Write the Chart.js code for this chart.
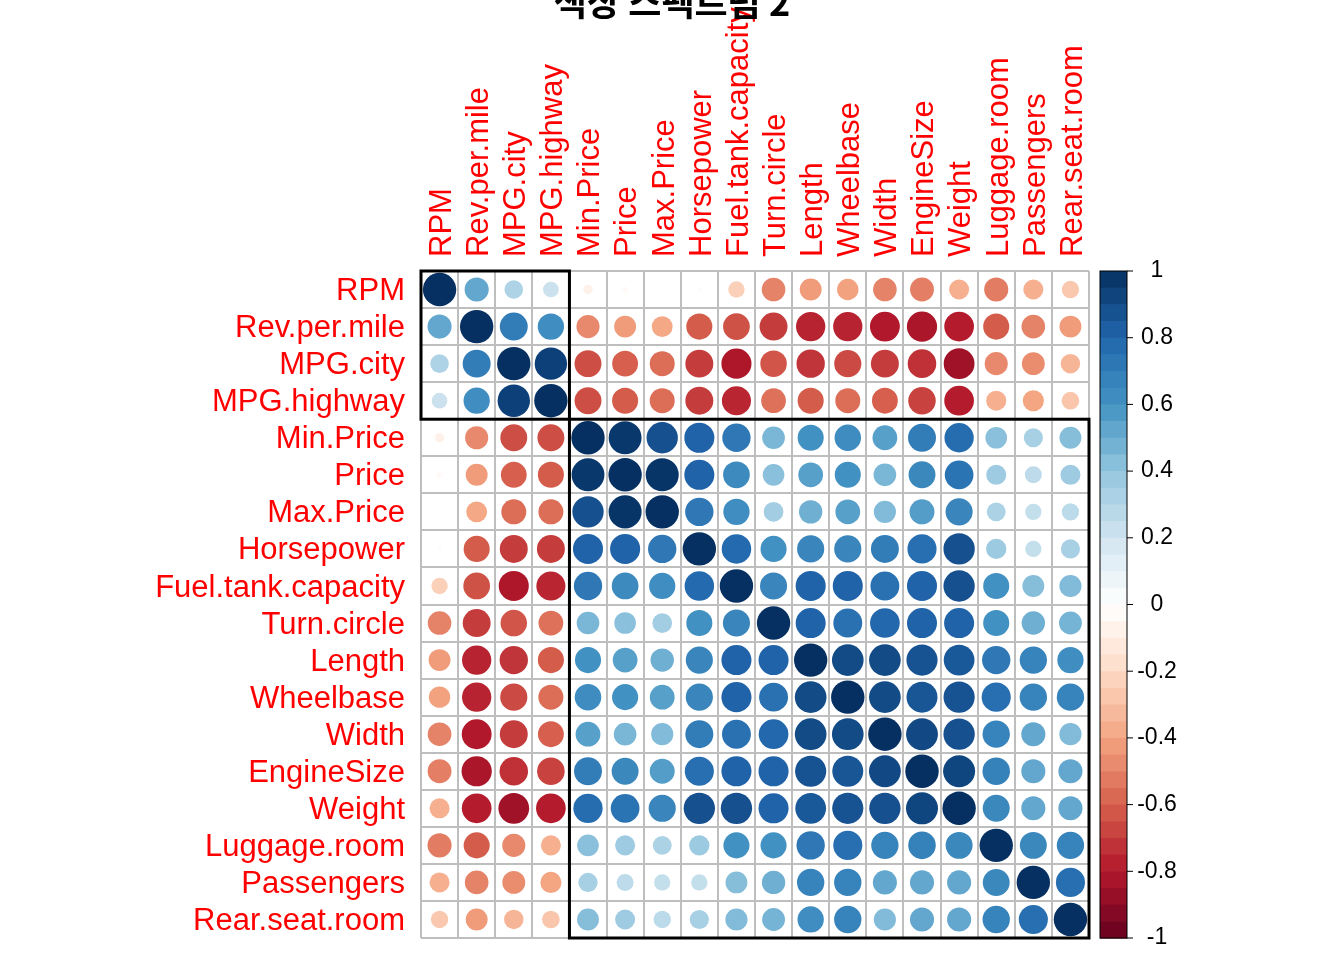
<!DOCTYPE html>
<html>
<head>
<meta charset="utf-8">
<script src="https://cdn.jsdelivr.net/npm/chart.js@4.4.0/dist/chart.umd.min.js"></script>
<style>
  html, body { margin: 0; padding: 0; background: #fff; }
  #wrap { width: 1344px; height: 960px; }
</style>
</head>
<body>
<div id="wrap"><canvas id="myChart"></canvas></div>
<script>
// variable order as in the picture (clustered)
const variables = ['RPM', 'Rev.per.mile', 'MPG.city', 'MPG.highway', 'Min.Price', 'Price', 'Max.Price',
    'Horsepower', 'Fuel.tank.capacity', 'Turn.circle', 'Length', 'Wheelbase', 'Width', 'EngineSize',
    'Weight', 'Luggage.room', 'Passengers', 'Rear.seat.room'];

// correlation rows
const corrRows = [
    [1.00, 0.52, 0.31, 0.22, -0.08, -0.03, 0.01, 0.02, -0.24, -0.50, -0.43, -0.41, -0.50, -0.51, -0.36, -0.52, -0.36, -0.27],
    [0.52, 1.00, 0.70, 0.62, -0.48, -0.43, -0.39, -0.61, -0.64, -0.70, -0.77, -0.77, -0.80, -0.82, -0.79, -0.61, -0.50, -0.43],
    [0.31, 0.70, 1.00, 0.94, -0.65, -0.60, -0.56, -0.70, -0.81, -0.63, -0.72, -0.66, -0.70, -0.73, -0.85, -0.48, -0.47, -0.34],
    [0.22, 0.62, 0.94, 1.00, -0.65, -0.61, -0.56, -0.70, -0.76, -0.55, -0.61, -0.56, -0.60, -0.68, -0.79, -0.36, -0.40, -0.28],
    [-0.08, -0.48, -0.65, -0.65, 1.00, 0.97, 0.88, 0.81, 0.72, 0.46, 0.61, 0.63, 0.55, 0.70, 0.77, 0.42, 0.33, 0.43],
    [-0.03, -0.43, -0.60, -0.61, 0.97, 1.00, 0.98, 0.81, 0.64, 0.42, 0.55, 0.61, 0.46, 0.65, 0.74, 0.36, 0.26, 0.36],
    [0.01, -0.39, -0.56, -0.56, 0.88, 0.98, 1.00, 0.72, 0.62, 0.35, 0.49, 0.55, 0.44, 0.56, 0.66, 0.32, 0.24, 0.27],
    [0.02, -0.61, -0.70, -0.70, 0.81, 0.81, 0.72, 1.00, 0.78, 0.61, 0.66, 0.66, 0.70, 0.76, 0.88, 0.37, 0.24, 0.33],
    [-0.24, -0.64, -0.81, -0.76, 0.72, 0.64, 0.62, 0.78, 1.00, 0.66, 0.81, 0.81, 0.75, 0.81, 0.88, 0.61, 0.43, 0.44],
    [-0.50, -0.70, -0.63, -0.55, 0.46, 0.42, 0.35, 0.61, 0.66, 1.00, 0.81, 0.75, 0.79, 0.81, 0.81, 0.61, 0.49, 0.47],
    [-0.43, -0.77, -0.72, -0.61, 0.61, 0.55, 0.49, 0.66, 0.81, 0.81, 1.00, 0.90, 0.90, 0.87, 0.85, 0.72, 0.67, 0.62],
    [-0.41, -0.77, -0.66, -0.56, 0.63, 0.61, 0.55, 0.66, 0.81, 0.75, 0.90, 1.00, 0.90, 0.86, 0.87, 0.76, 0.67, 0.67],
    [-0.50, -0.80, -0.70, -0.60, 0.55, 0.46, 0.44, 0.70, 0.75, 0.79, 0.90, 0.90, 1.00, 0.91, 0.88, 0.67, 0.52, 0.44],
    [-0.51, -0.82, -0.73, -0.68, 0.70, 0.65, 0.56, 0.76, 0.81, 0.81, 0.87, 0.86, 0.91, 1.00, 0.92, 0.68, 0.52, 0.52],
    [-0.36, -0.79, -0.85, -0.79, 0.77, 0.74, 0.66, 0.88, 0.88, 0.81, 0.85, 0.87, 0.88, 0.92, 1.00, 0.65, 0.52, 0.52],
    [-0.52, -0.61, -0.48, -0.36, 0.42, 0.36, 0.32, 0.37, 0.61, 0.61, 0.72, 0.76, 0.67, 0.68, 0.65, 1.00, 0.65, 0.67],
    [-0.36, -0.50, -0.47, -0.40, 0.33, 0.26, 0.24, 0.24, 0.43, 0.49, 0.67, 0.67, 0.52, 0.52, 0.52, 0.65, 1.00, 0.76],
    [-0.27, -0.43, -0.34, -0.28, 0.43, 0.36, 0.27, 0.33, 0.44, 0.47, 0.62, 0.67, 0.44, 0.52, 0.52, 0.67, 0.76, 1.00]
];

// cluster boxes: first and last variable index of each group
const clusterStart = [0, 4];
const clusterEnd = [3, 17];

const legendTicks = [1, 0.8, 0.6, 0.4, 0.2, 0, -0.2, -0.4, -0.6, -0.8, -1];

// RdBu palette, from -1 to 1
const palette = ['#67001F', '#B2182B', '#D6604D', '#F4A582', '#FDDBC7', '#FFFFFF',
    '#D1E5F0', '#92C5DE', '#4393C3', '#2166AC', '#053061'];

const chartTitle = '색상 스펙트럼 2';
const labelFont = '"Liberation Sans", Arial, sans-serif';

function hexToRgb(h) {
    return [parseInt(h.slice(1, 3), 16), parseInt(h.slice(3, 5), 16), parseInt(h.slice(5, 7), 16)];
}

function colorFor(v) {
    const pos = (Math.max(-1, Math.min(1, v)) + 1) / 2 * (palette.length - 1);
    const i = Math.min(Math.floor(pos), palette.length - 2);
    const t = pos - i;
    const a = hexToRgb(palette[i]), b = hexToRgb(palette[i + 1]);
    const c = a.map((x, k) => Math.round(x + (b[k] - x) * t));
    return `rgb(${c[0]}, ${c[1]}, ${c[2]})`;
}

// one point per cell, placed by label on the category scales
const points = [];
corrRows.forEach((row, i) => {
    row.forEach((v, j) => points.push({ x: variables[j], y: variables[i], v: v }));
});

// title, cluster rectangles and colour legend
const extrasPlugin = {
    id: 'extras',
    afterDatasetsDraw(chart) {
        const ctx = chart.ctx;
        const xs = chart.scales.x, ys = chart.scales.y;
        const cellW = (xs.right - xs.left) / variables.length;
        const cellH = (ys.bottom - ys.top) / variables.length;
        ctx.save();
        ctx.strokeStyle = '#000';
        ctx.lineWidth = 3;
        for (let k = 0; k < clusterStart.length; k++) {
            const x0 = xs.getPixelForValue(clusterStart[k]) - cellW / 2;
            const x1 = xs.getPixelForValue(clusterEnd[k]) + cellW / 2;
            const y0 = ys.getPixelForValue(clusterStart[k]) - cellH / 2;
            const y1 = ys.getPixelForValue(clusterEnd[k]) + cellH / 2;
            ctx.strokeRect(x0, y0, x1 - x0, y1 - y0);
        }
        ctx.restore();
    },
    afterDraw(chart) {
        const ctx = chart.ctx;
        const a = chart.chartArea;
        ctx.save();
        // colour bar
        const bx = a.right + 11, bw = 27;
        const steps = 40;
        const bh = (a.bottom - a.top) / steps;
        for (let k = 0; k < steps; k++) {
            const v = 1 - (k + 0.5) * 2 / steps;
            ctx.fillStyle = colorFor(v);
            ctx.fillRect(bx, a.top + k * bh, bw, bh + 0.6);
        }
        ctx.strokeStyle = '#000';
        ctx.lineWidth = 1;
        ctx.strokeRect(bx, a.top, bw, a.bottom - a.top);
        ctx.fillStyle = '#000';
        ctx.font = '23px ' + labelFont;
        ctx.textAlign = 'center';
        ctx.textBaseline = 'middle';
        legendTicks.forEach(t => {
            const y = a.top + (1 - t) / 2 * (a.bottom - a.top);
            ctx.beginPath();
            ctx.moveTo(bx + bw, y);
            ctx.lineTo(bx + bw + 6, y);
            ctx.stroke();
            ctx.fillText(String(t), bx + bw + 30, y);
        });
        // title, partly above the top edge
        ctx.font = 'bold 36px "Noto Sans CJK KR", sans-serif';
        ctx.textBaseline = 'alphabetic';
        ctx.fillText(chartTitle, 672, 16);
        ctx.restore();
    }
};

const ctx = document.getElementById('myChart').getContext('2d');
const myChart = new Chart(ctx, {
    type: 'scatter',
    data: {
        datasets: [{
            data: points,
            showLine: false,
            pointStyle: 'circle',
            pointBorderWidth: 0,
            pointBackgroundColor: c => colorFor(c.raw.v),
            pointBorderColor: c => colorFor(c.raw.v),
            pointRadius: c => {
                const a = c.chart.chartArea;
                if (!a || !c.raw) return 0;
                const cell = (a.right - a.left) / variables.length;
                return Math.sqrt(Math.abs(c.raw.v)) * cell * 0.45;
            }
        }]
    },
    options: {
        responsive: true,
        maintainAspectRatio: false,
        animation: false,
        events: [],
        layout: { padding: { left: 0, top: 0, right: 255, bottom: 22 } },
        plugins: {
            legend: { display: false },
            tooltip: { enabled: false }
        },
        scales: {
            x: {
                type: 'category',
                labels: variables,
                position: 'top',
                offset: true,
                grid: { offset: true, color: '#BEBEBE', lineWidth: 2, drawTicks: false },
                border: { display: false },
                ticks: {
                    autoSkip: false,
                    minRotation: 90,
                    maxRotation: 90,
                    padding: 14,
                    labelOffset: 40,
                    color: '#FF0000',
                    font: { family: labelFont, size: 31 }
                },
                afterFit: s => { s.height = 271; s.paddingLeft = 0; s.paddingRight = 0; }
            },
            y: {
                type: 'category',
                labels: variables,
                offset: true,
                grid: { offset: true, color: '#BEBEBE', lineWidth: 2, drawTicks: false },
                border: { display: false },
                ticks: {
                    autoSkip: false,
                    padding: 16,
                    labelOffset: 2,
                    color: '#FF0000',
                    font: { family: labelFont, size: 31 }
                },
                afterFit: s => { s.width = 421; s.paddingTop = 0; s.paddingBottom = 0; }
            }
        }
    },
    plugins: [extrasPlugin]
});
</script>
</body>
</html>
